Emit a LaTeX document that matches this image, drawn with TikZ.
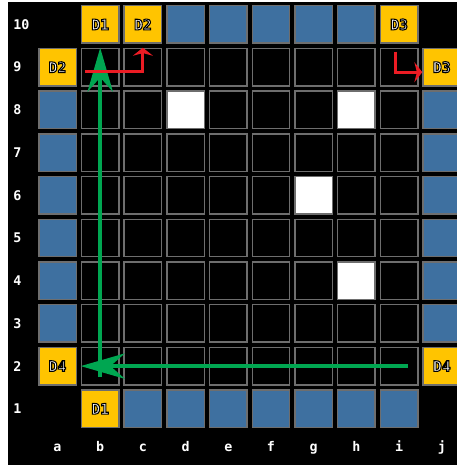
\documentclass[tikz,border=0pt]{standalone}
\usepackage{xcolor}
\usepackage{fontspec}
\setmonofont{DejaVu Sans Mono}
\usetikzlibrary{arrows.meta}

\definecolor{tileblue}{RGB}{62,112,160}
\definecolor{tilegold}{RGB}{255,196,0}
\definecolor{tileedge}{RGB}{110,110,110}
\definecolor{pathgreen}{RGB}{0,166,81}
\definecolor{turnred}{RGB}{236,28,36}

% white letters with a black rim
\newcommand{\rimtext}[1]{{\color{white}\special{pdf:literal direct 2 Tr 0 G 0.8 w}#1\special{pdf:literal direct 0 Tr}}}

\begin{document}
\begin{tikzpicture}[
    x=0.75pt, y=0.75pt,
    tile/.style={
        rectangle,
        draw=tileedge,
        line width=1.1pt,
        minimum size=28.1pt,
        inner sep=0pt,
        fill=black
    },
    floor/.style={tile},
    wall/.style={tile, fill=tileblue},
    door/.style={tile, fill=tilegold, font=\ttfamily\bfseries\fontsize{11}{11}\selectfont},
    block/.style={tile, fill=white},
    axis/.style={text=white, inner sep=0pt, font=\ttfamily\bfseries\fontsize{10}{10}\selectfont},
    route/.style={-{Stealth[length=33pt, width=19pt]}, draw=pathgreen, line width=3pt},
    turn/.style={-{Stealth[length=6pt, width=15pt]}, draw=turnred, line width=2.25pt},
    sq-d8/.style={block},
    sq-h8/.style={block},
    sq-g6/.style={block},
    sq-h4/.style={block}
]

\useasboundingbox (0,0) rectangle (457,475);
\fill[white] (0,0) rectangle (457,475);
\fill[black] (8,10) rectangle (457,473);

% inner floor
\foreach \c [count=\x from 2] in {b,c,d,e,f,g,h,i} {
    \foreach \r in {2,...,9} {
        \node[floor, sq-\c\r/.try] (\c\r) at ({14.8+42.7*\x},{23.5+42.7*\r}) {};
    }
}

% walls
\foreach \c/\x in {d/4,e/5,f/6,g/7,h/8}
    \node[wall] (\c10) at ({14.8+42.7*\x},{23.5+42.7*10}) {};
\foreach \c/\x in {c/3,d/4,e/5,f/6,g/7,h/8,i/9}
    \node[wall] (\c1) at ({14.8+42.7*\x},{23.5+42.7}) {};
\foreach \r in {3,...,8} {
    \node[wall] (a\r) at ({14.8+42.7},{23.5+42.7*\r}) {};
    \node[wall] (j\r) at ({14.8+42.7*10},{23.5+42.7*\r}) {};
}

% doors
\foreach \c/\x/\r/\t in {b/2/10/D1, c/3/10/D2, i/9/10/D3, a/1/9/D2,
                         j/10/9/D3, a/1/2/D4, j/10/2/D4, b/2/1/D1}
    \node[door] (\c\r) at ({14.8+42.7*\x},{23.5+42.7*\r}) {\rimtext{\t}};

% axis labels
\foreach \r in {1,...,10}
    \node[axis, anchor=west] (row\r) at (13,{23.5+42.7*\r}) {\r};
\foreach \c [count=\x] in {a,b,c,d,e,f,g,h,i,j}
    \node[axis, anchor=base] (col\c) at ({14.8+42.7*\x},23.5) {\c};

% paths
\draw[route] ([xshift=6.5pt]i2.center) -- (b2.west);
\draw[route] ([yshift=-8.25pt]b2.center) -- (b9.north);
\draw[turn] ([xshift=-11.25pt, yshift=-3pt]b9.center) -| (c9.north);
\draw[turn] ([xshift=-3pt, yshift=-3pt]i9.north) |- ([yshift=-3.75pt]j9.west);

\end{tikzpicture}
\end{document}
